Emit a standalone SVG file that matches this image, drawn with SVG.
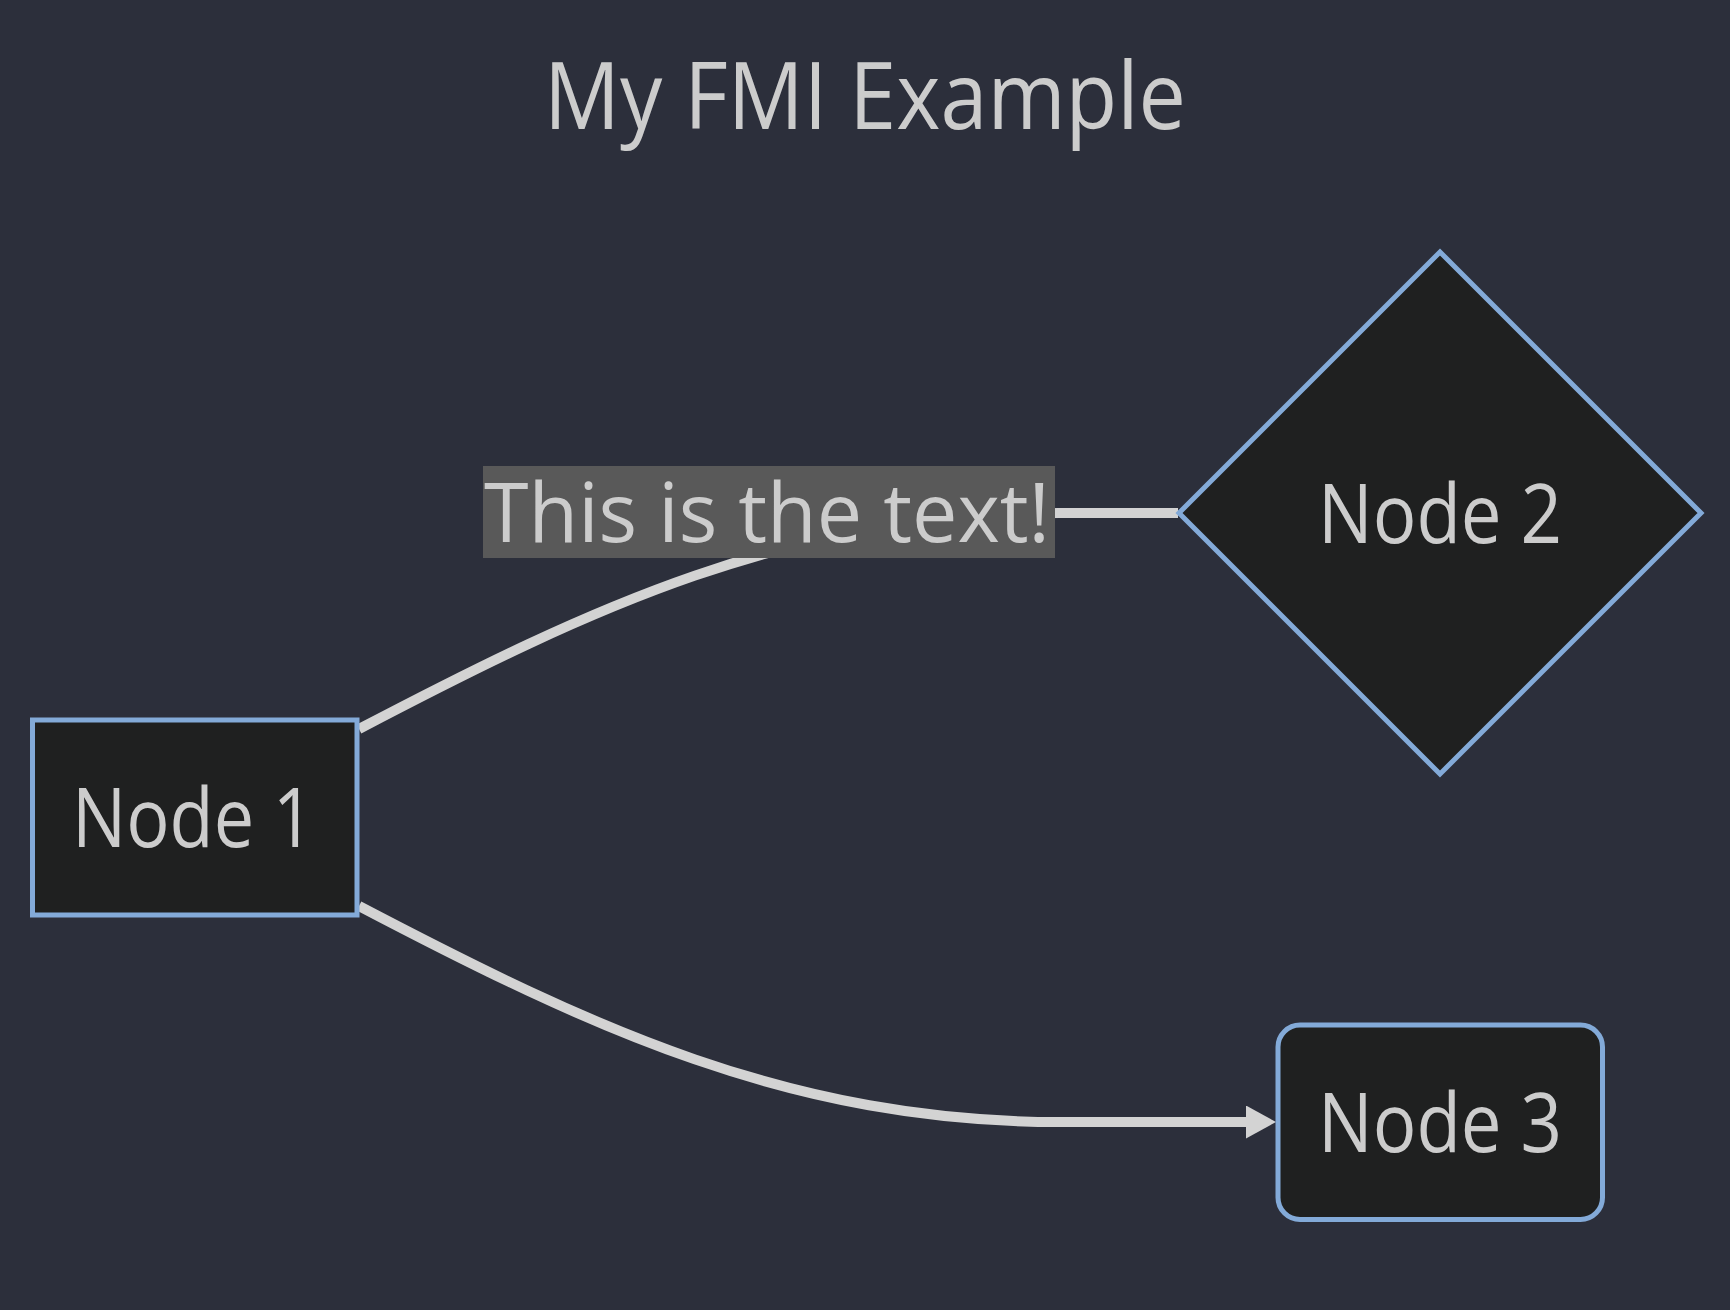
<svg xmlns="http://www.w3.org/2000/svg" width="1730" height="1310" viewBox="0 0 1730 1310">
  <style>
    .bg { fill: #2c2f3b; }
    .node { fill: #1f2020; stroke: #83aad8; stroke-width: 5; }
    .txt { font-family: "Open Sans", "Liberation Sans", sans-serif; fill: #cccccc; font-size: 83px; }
    .title { font-family: "Open Sans", "Liberation Sans", sans-serif; fill: #cccccc; font-size: 93px; }
    .edge { fill: none; stroke: #d3d3d3; stroke-width: 10; }
    .lblbg { fill: #595959; }
  </style>
  <defs>
    <marker id="arrow" markerUnits="userSpaceOnUse" markerWidth="32" markerHeight="34" refX="0" refY="16.5" orient="auto" viewBox="0 0 32 34">
      <path d="M0,0 L30,16.5 L0,33 z" fill="#d3d3d3"/>
    </marker>
  </defs>
  <rect class="bg" x="0" y="0" width="1730" height="1310"/>
  <text class="title" x="865" y="129" text-anchor="middle" textLength="642" lengthAdjust="spacingAndGlyphs">My FMI Example</text>
  <g id="connectors">
    <path class="edge" d="M 359 729 C 590 608, 790 513, 1060 513 L 1178 513"/>
    <path class="edge" d="M 359 906 C 590 1027, 790 1122, 1060 1122 L 1246 1122" marker-end="url(#arrow)"/>
    <g id="edge-label">
      <rect class="lblbg" x="483" y="466" width="572" height="92"/>
      <text class="txt" x="484" y="541.5" textLength="566" lengthAdjust="spacingAndGlyphs">This is the text!</text>
    </g>
  </g>
  <g id="node1">
    <rect class="node" x="32.5" y="720" width="324.5" height="195"/>
    <text class="txt" x="193" y="847" text-anchor="middle" textLength="242" lengthAdjust="spacingAndGlyphs">Node 1</text>
  </g>
  <g id="node2">
    <polygon class="node" points="1440,252 1701,513 1440,774 1179,513"/>
    <text class="txt" x="1440" y="542.5" text-anchor="middle" textLength="244" lengthAdjust="spacingAndGlyphs">Node 2</text>
  </g>
  <g id="node3">
    <rect class="node" x="1278" y="1025" width="324.5" height="194.5" rx="22" ry="22"/>
    <text class="txt" x="1440" y="1151.5" text-anchor="middle" textLength="244" lengthAdjust="spacingAndGlyphs">Node 3</text>
  </g>
</svg>
